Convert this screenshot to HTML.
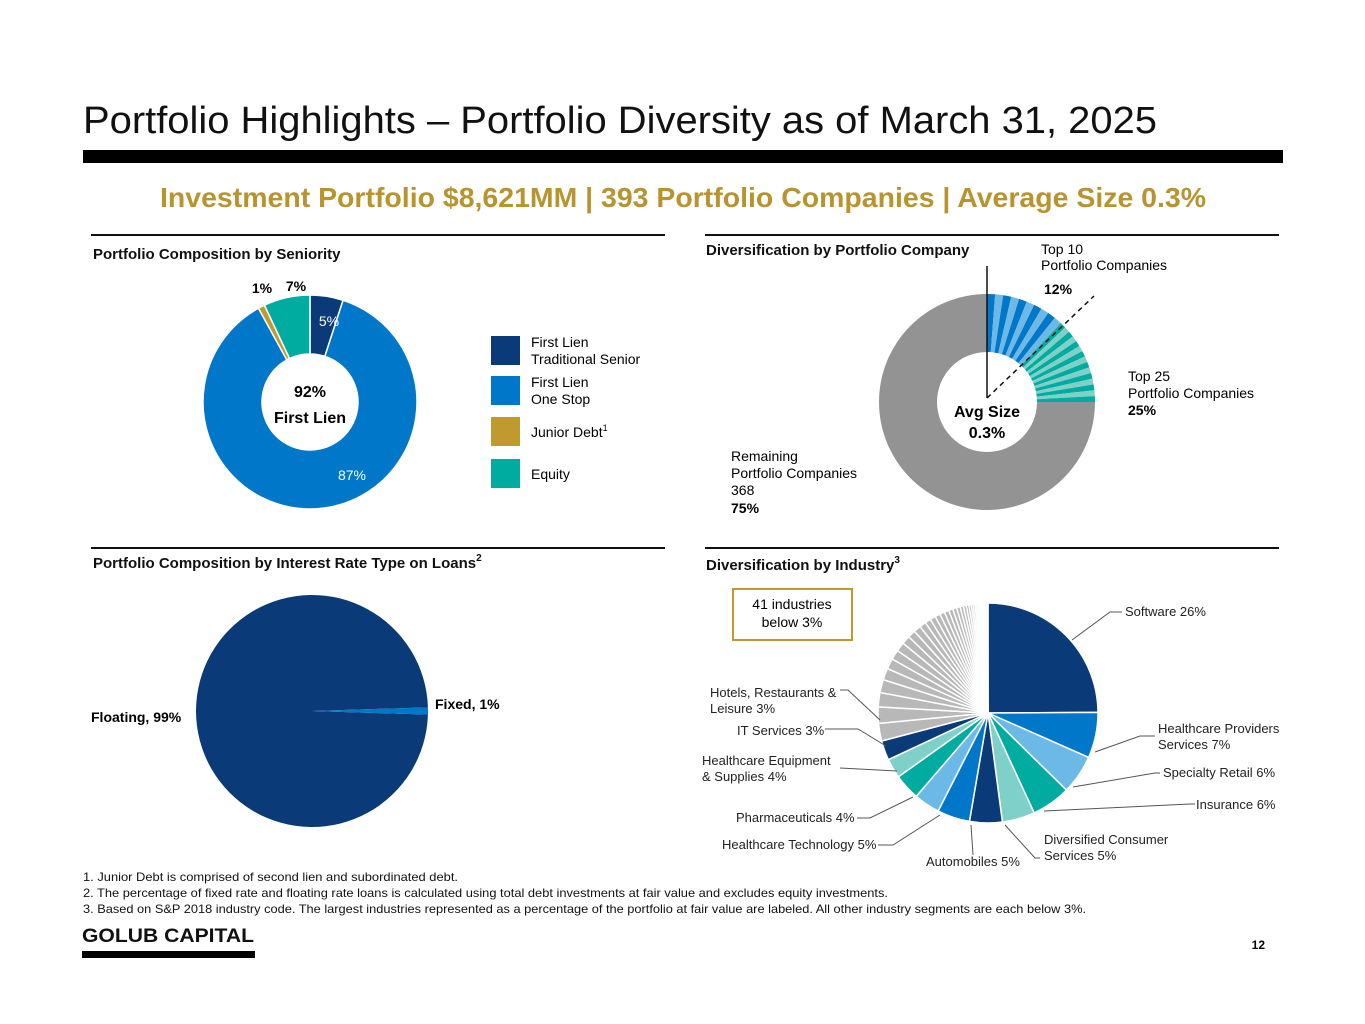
<!DOCTYPE html>
<html><head><meta charset="utf-8"><style>
html,body{margin:0;padding:0;background:#fff;}
svg{display:block;font-family:"Liberation Sans Narrow","Liberation Sans",sans-serif;}
.b{font-weight:bold}
</style></head><body>
<svg id="s" width="1365" height="1024" viewBox="0 0 1365 1024" xmlns="http://www.w3.org/2000/svg">
<text x="83" y="133" font-size="38" fill="#111" textLength="1074" lengthAdjust="spacingAndGlyphs">Portfolio Highlights – Portfolio Diversity as of March 31, 2025</text>
<rect x="83" y="150" width="1200" height="13" fill="#000"/>
<text x="160" y="207" font-size="28" fill="#b8942f" class="b" textLength="1046" lengthAdjust="spacingAndGlyphs">Investment Portfolio $8,621MM |  393 Portfolio Companies | Average Size 0.3%</text>

<rect x="91" y="234" width="574" height="2" fill="#111"/>
<rect x="705" y="234" width="574" height="2" fill="#111"/>
<rect x="91" y="547" width="574" height="2" fill="#111"/>
<rect x="705" y="547" width="574" height="2" fill="#111"/>

<text x="93" y="259" font-size="15" class="b" fill="#111">Portfolio Composition by Seniority</text>
<text x="706" y="255" font-size="15" class="b" fill="#111">Diversification by Portfolio Company</text>
<text x="93" y="568" font-size="15" class="b" fill="#111">Portfolio Composition by Interest Rate Type on Loans<tspan dy="-7" font-size="10">2</tspan></text>
<text x="706" y="570" font-size="15" class="b" fill="#111">Diversification by Industry<tspan dy="-7" font-size="10">3</tspan></text>

<g id="sen"></g>
<text x="310" y="397" font-size="16" class="b" text-anchor="middle">92%</text>
<text x="310" y="423" font-size="16" class="b" text-anchor="middle">First Lien</text>
<text x="329" y="326" font-size="14" fill="#fff" text-anchor="middle">5%</text>
<text x="352" y="480" font-size="14" fill="#fff" text-anchor="middle">87%</text>
<text x="262" y="293" font-size="14" class="b" text-anchor="middle">1%</text>
<text x="296" y="291" font-size="14" class="b" text-anchor="middle">7%</text>

<g>
<rect x="491" y="336" width="29" height="29" fill="#0b3a78"/>
<text x="531" y="347" font-size="14">First Lien</text>
<text x="531" y="364" font-size="14">Traditional Senior</text>
<rect x="491" y="376" width="29" height="29" fill="#0077c8"/>
<text x="531" y="387" font-size="14">First Lien</text>
<text x="531" y="404" font-size="14">One Stop</text>
<rect x="491" y="417" width="29" height="29" fill="#bf9a2e"/>
<text x="531" y="437" font-size="14">Junior Debt<tspan dy="-6" font-size="9">1</tspan></text>
<rect x="491" y="459" width="29" height="29" fill="#00aca0"/>
<text x="531" y="479" font-size="14">Equity</text>
</g>

<g id="comp"></g>
<line x1="987" y1="266" x2="987" y2="398" stroke="#111" stroke-width="1.5"/>
<line x1="987" y1="398" x2="1094" y2="296" stroke="#111" stroke-width="1.5" stroke-dasharray="5,4"/>
<text x="987" y="417" font-size="16" class="b" text-anchor="middle">Avg Size</text>
<text x="987" y="438" font-size="16" class="b" text-anchor="middle">0.3%</text>
<text x="1041" y="254" font-size="14">Top 10</text>
<text x="1041" y="270" font-size="14">Portfolio Companies</text>
<text x="1044" y="294" font-size="14" class="b">12%</text>
<text x="1128" y="381" font-size="14">Top 25</text>
<text x="1128" y="398" font-size="14">Portfolio Companies</text>
<text x="1128" y="415" font-size="14" class="b">25%</text>
<text x="731" y="461" font-size="14">Remaining</text>
<text x="731" y="478" font-size="14">Portfolio Companies</text>
<text x="731" y="495" font-size="14">368</text>
<text x="731" y="513" font-size="14" class="b">75%</text>

<g id="rate"></g>
<text x="91" y="722" font-size="14" class="b">Floating, 99%</text>
<text x="435" y="709" font-size="14" class="b">Fixed, 1%</text>

<g id="ind"></g>
<rect x="733" y="589" width="119" height="51" fill="#fff" stroke="#bf9a2e" stroke-width="2"/>
<text x="792" y="609" font-size="14" text-anchor="middle">41 industries</text>
<text x="792" y="627" font-size="14" text-anchor="middle">below 3%</text>
<g fill="none" stroke="#555" stroke-width="1">
<polyline points="1072,640 1110,612 1122,612"/>
<polyline points="1095,752 1140,736 1155,736"/>
<polyline points="1073,787 1155,773 1160,773"/>
<polyline points="1044,811 1190,804 1195,804"/>
<polyline points="1005,825 1035,858 1040,858"/>
<polyline points="971,825 973,855"/>
<polyline points="940,815 893,845 878,845"/>
<polyline points="913,797 870,818 857,818"/>
<polyline points="897,771 840,768"/>
<polyline points="886,746 858,729 825,729"/>
<polyline points="880,720 848,690 840,690"/>
</g>
<g font-size="13" fill="#222">
<text x="1125" y="616">Software 26%</text>
<text x="1158" y="733">Healthcare Providers</text>
<text x="1158" y="749">Services 7%</text>
<text x="1163" y="777">Specialty Retail 6%</text>
<text x="1196" y="809">Insurance 6%</text>
<text x="1044" y="844">Diversified Consumer</text>
<text x="1044" y="860">Services 5%</text>
<text x="926" y="866">Automobiles 5%</text>
<text x="722" y="849">Healthcare Technology 5%</text>
<text x="736" y="822">Pharmaceuticals 4%</text>
<text x="702" y="765">Healthcare Equipment</text>
<text x="702" y="781">&amp; Supplies 4%</text>
<text x="737" y="735">IT Services 3%</text>
<text x="710" y="697">Hotels, Restaurants &amp;</text>
<text x="710" y="713">Leisure 3%</text>
</g>

<g font-size="12" fill="#111">
<text x="83" y="881" textLength="375" lengthAdjust="spacingAndGlyphs">1.  Junior Debt is comprised of second lien and subordinated debt.</text>
<text x="83" y="897" textLength="805" lengthAdjust="spacingAndGlyphs">2.  The percentage of fixed rate and floating rate loans is calculated using total debt investments at fair value and excludes equity investments.</text>
<text x="83" y="913" textLength="1003" lengthAdjust="spacingAndGlyphs">3.  Based on S&amp;P 2018 industry code. The largest industries represented as a percentage of the portfolio at fair value are labeled. All other industry segments are each below 3%.</text>
</g>
<text x="82" y="942" font-size="19" class="b" fill="#111" textLength="172" lengthAdjust="spacingAndGlyphs" font-family="Liberation Sans, sans-serif">GOLUB CAPITAL</text>
<rect x="82" y="951" width="173" height="7" fill="#000"/>
<text x="1265" y="949" font-size="12" class="b" text-anchor="end">12</text>
</svg>
<script>
const seniorityCats = ["First Lien Traditional Senior","First Lien One Stop","Junior Debt","Equity"];
const seniorityVals = [5, 87, 1, 7];
const seniorityColors = ["#0b3a78","#0077c8","#bf9a2e","#00aca0"];
const companyGroups = ["Top 10","Next 15","Remaining"];
const companyVals = [12, 13, 75];
const companyStripes = [10, 15, 1];
const rateCats = ["Floating","Fixed"];
const rateVals = [99, 1];
const industryCats = ["Software","Healthcare Providers & Services","Specialty Retail","Insurance","Diversified Consumer Services","Automobiles","Healthcare Technology","Pharmaceuticals","Healthcare Equipment & Supplies","IT Services","Hotels, Restaurants & Leisure"];
const industryVals = [26, 7, 6, 6, 5, 5, 5, 4, 4, 3, 3];
const smallIndustryVals = [2.7,2.5,2.2,2.0,1.8,1.6,1.5,1.4,1.3,1.2,1.1,1.0,0.9,0.85,0.8,0.75,0.7,0.65,0.6,0.55,0.5,0.45,0.4,0.35,0.3,0.3,0.25,0.25,0.2,0.2,0.15,0.15,0.12,0.12,0.1,0.1,0.08,0.08,0.06,0.06,0.05];
const NS="http://www.w3.org/2000/svg";
function pt(cx,cy,r,a){const t=(a-90)*Math.PI/180;return [cx+r*Math.cos(t),cy+r*Math.sin(t)];}
function arcPath(cx,cy,ro,ri,a0,a1){
  const L=(a1-a0)>180?1:0;const p0=pt(cx,cy,ro,a0),p1=pt(cx,cy,ro,a1);
  if(ri<=0) return `M${cx},${cy}L${p0}A${ro},${ro} 0 ${L} 1 ${p1}Z`;
  const q1=pt(cx,cy,ri,a1),q0=pt(cx,cy,ri,a0);
  return `M${p0}A${ro},${ro} 0 ${L} 1 ${p1}L${q1}A${ri},${ri} 0 ${L} 0 ${q0}Z`;
}
function wedge(g,d,fill,stroke,sw){const p=document.createElementNS(NS,'path');p.setAttribute('d',d);p.setAttribute('fill',fill);if(stroke){p.setAttribute('stroke',stroke);p.setAttribute('stroke-width',sw);}


g.appendChild(p);return p;}
(function(){const g=document.getElementById('sen');const tot=seniorityVals.reduce((a,b)=>a+b,0);let a=0;
seniorityVals.forEach((v,i)=>{const b=a+v/tot*360;wedge(g,arcPath(310,402,107,48,a,b),seniorityColors[i],'#fff',1.5);a=b;});})();
(function(){const g=document.getElementById('comp');const tot=companyVals.reduce((a,b)=>a+b,0);let a=0;
const pal=[["#0077c8","#6cb8e6"],["#00aca0","#7fd0c8"],["#939393","#939393"]];
companyVals.forEach((v,i)=>{const n=companyStripes[i];const step=v/tot*360/n;for(let k=0;k<n;k++){wedge(g,arcPath(987,402,108,50,a,a+step),pal[i][k%2]);a+=step;}});})();
(function(){const g=document.getElementById('rate');const tot=rateVals.reduce((a,b)=>a+b,0);const fx=rateVals[1]/tot*360;
wedge(g,arcPath(312,711,116,0,90+fx/2,450-fx/2),'#0b3a78');wedge(g,arcPath(312,711,116,0,90-fx/2,90+fx/2),'#0077c8');})();
(function(){const g=document.getElementById('ind');const all=industryVals.concat(smallIndustryVals);const tot=all.reduce((a,b)=>a+b,0);
const cols=["#0b3a78","#0077c8","#6cb8e6","#00aca0","#7fd0c8"];let a=0;
all.forEach((v,i)=>{const b=a+v/tot*360;let c;if(i<industryVals.length)c=cols[i%5];else{const j=i-industryVals.length;c=j<smallIndustryVals.length-8?"#b8b8b8":"#e4e4e4";}
wedge(g,arcPath(988,713,110,0,a,b),c,'#fff',1.5);a=b;});})();
</script>
</body></html>
